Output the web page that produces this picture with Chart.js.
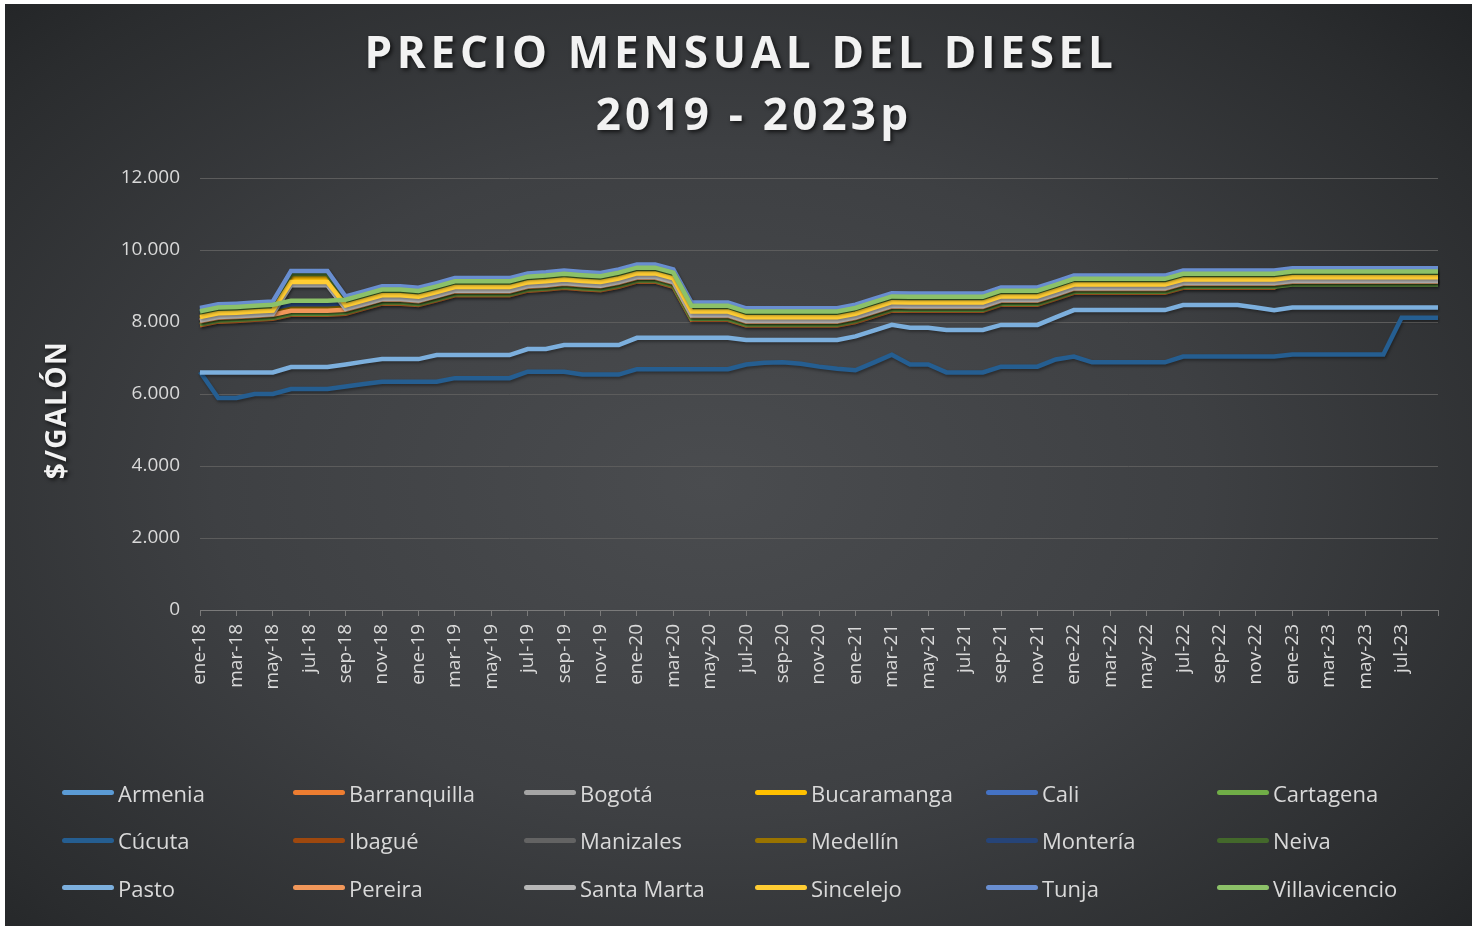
<!DOCTYPE html>
<html>
<head>
<meta charset="utf-8">
<script src="https://cdn.jsdelivr.net/npm/chart.js@4.4.0/dist/chart.umd.min.js"></script>
<style>
  html, body { margin: 0; padding: 0; background: #fff; }
  #frame {
    position: absolute; left: 5px; top: 4px; width: 1467px; height: 922px; overflow: hidden;
    background: radial-gradient(ellipse 75% 80% at 48% 52%, #4a4c4f 0%, #3e4043 45%, #2a2c2e 82%, #1e2022 100%);
  }
  #c { position: absolute; left: 0; top: 0; }
  #legend {
    position: absolute; left: 57px; top: 765px;
    display: grid; grid-template-columns: repeat(6, 231px); grid-auto-rows: 47.5px;
    font-family: "Open Sans"; font-size: 22px; color: #d9d9d9;
  }
  .item { display: flex; align-items: center; white-space: nowrap; }
  .sw { width: 52px; height: 5px; border-radius: 3px; margin-right: 4px; }
</style>
</head>
<body>
<div id="frame">
  <canvas id="c" width="1467" height="922"></canvas>
  <div id="legend"></div>
</div>
<script>
var months = [
  'ene-18','feb-18','mar-18','abr-18','may-18','jun-18','jul-18','ago-18','sep-18','oct-18','nov-18','dic-18',
  'ene-19','feb-19','mar-19','abr-19','may-19','jun-19','jul-19','ago-19','sep-19','oct-19','nov-19','dic-19',
  'ene-20','feb-20','mar-20','abr-20','may-20','jun-20','jul-20','ago-20','sep-20','oct-20','nov-20','dic-20',
  'ene-21','feb-21','mar-21','abr-21','may-21','jun-21','jul-21','ago-21','sep-21','oct-21','nov-21','dic-21',
  'ene-22','feb-22','mar-22','abr-22','may-22','jun-22','jul-22','ago-22','sep-22','oct-22','nov-22','dic-22',
  'ene-23','feb-23','mar-23','abr-23','may-23','jun-23','jul-23','ago-23','sep-23'
];

var cities = ['Armenia','Barranquilla','Bogotá','Bucaramanga','Cali','Cartagena',
  'Cúcuta','Ibagué','Manizales','Medellín','Montería','Neiva',
  'Pasto','Pereira','Santa Marta','Sincelejo','Tunja','Villavicencio'];

var colors = ['#5B9BD5','#ED7D31','#A5A5A5','#FFC000','#4472C4','#70AD47',
  '#255E91','#9E480E','#636363','#997300','#264478','#43682B',
  '#7CAFDD','#F1975A','#B7B7B7','#FFCD33','#698ED0','#8CC168'];

var armenia = [
  8270,8370,8390,8420,8450,8560,8560,8560,8590,8730,
  8870,8870,8830,8960,9100,9100,9100,9100,9230,9260,
  9310,9270,9240,9340,9480,9480,9340,8420,8420,8420,
  8260,8260,8260,8260,8260,8260,8360,8520,8680,8670,
  8670,8670,8670,8670,8840,8840,8840,9000,9170,9170,
  9170,9170,9170,9170,9310,9310,9310,9310,9310,9310,
  9370,9370,9370,9370,9370,9370,9370,9370,9370];
var barranquilla = [
  7910,8010,8030,8060,8090,8200,8200,8200,8230,8370,
  8510,8510,8470,8600,8740,8740,8740,8740,8870,8900,
  8950,8910,8880,8980,9120,9120,8980,8060,8060,8060,
  7900,7900,7900,7900,7900,7900,8000,8160,8320,8310,
  8310,8310,8310,8310,8480,8480,8480,8640,8810,8810,
  8810,8810,8810,8810,8950,8950,8950,8950,8950,8950,
  9360,9360,9360,9360,9360,9360,9360,9360,9360];
var bogota = [
  8050,8150,8170,8200,8230,8340,8340,8340,8370,8510,
  8650,8650,8610,8740,8880,8880,8880,8880,9010,9040,
  9090,9050,9020,9120,9260,9260,9120,8200,8200,8200,
  8040,8040,8040,8040,8040,8040,8140,8300,8460,8450,
  8450,8450,8450,8450,8620,8620,8620,8780,8950,8950,
  8950,8950,8950,8950,9090,9090,9090,9090,9090,9090,
  9150,9150,9150,9150,9150,9150,9150,9150,9150];
var bucaramanga = [
  8090,8190,8210,8240,8270,9230,9230,9230,8410,8550,
  8690,8690,8650,8780,8920,8920,8920,8920,9050,9080,
  9130,9090,9060,9160,9300,9300,9160,8240,8240,8240,
  8080,8080,8080,8080,8080,8080,8180,8340,8500,8490,
  8490,8490,8490,8490,8660,8660,8660,8820,8990,8990,
  8990,8990,8990,8990,9130,9130,9130,9130,9130,9130,
  9190,9190,9190,9190,9190,9190,9190,9190,9190];
var cali = [
  8340,8440,8460,8490,8520,9400,9400,9400,8660,8800,
  8940,8940,8900,9030,9170,9170,9170,9170,9300,9330,
  9380,9340,9310,9410,9550,9550,9410,8490,8490,8490,
  8330,8330,8330,8330,8330,8330,8430,8590,8750,8740,
  8740,8740,8740,8740,8910,8910,8910,9070,9240,9240,
  9240,9240,9240,9240,9380,9380,9380,9380,9380,9380,
  9440,9440,9440,9440,9440,9440,9440,9440,9440];
var cartagena = [
  7940,8040,8060,8090,8120,8230,8230,8230,8260,8400,
  8540,8540,8500,8630,8770,8770,8770,8770,8900,8930,
  8980,8940,8910,9010,9150,9150,9010,8090,8090,8090,
  7930,7930,7930,7930,7930,7930,8030,8190,8350,8340,
  8340,8340,8340,8340,8510,8510,8510,8670,8840,8840,
  8840,8840,8840,8840,8980,8980,8980,8980,8980,8980,
  9040,9040,9040,9040,9040,9040,9040,9040,9040];
var cucuta = [
  6620,5890,5890,6000,6000,6140,6140,6140,6210,6280,
  6340,6340,6340,6340,6440,6440,6440,6440,6620,6620,
  6620,6540,6540,6540,6690,6690,6690,6690,6690,6690,
  6820,6870,6880,6840,6760,6700,6660,6870,7090,6820,
  6820,6600,6600,6600,6760,6760,6760,6960,7040,6880,
  6880,6880,6880,6880,7040,7040,7040,7040,7040,7040,
  7100,7100,7100,7100,7100,7100,8120,8120,8120];
var ibague = [
  8030,8130,8150,8180,8210,8320,8320,8320,8350,8490,
  8630,8630,8590,8720,8860,8860,8860,8860,8990,9020,
  9070,9030,9000,9100,9240,9240,9100,8180,8180,8180,
  8020,8020,8020,8020,8020,8020,8120,8280,8440,8430,
  8430,8430,8430,8430,8600,8600,8600,8760,8930,8930,
  8930,8930,8930,8930,9070,9070,9070,9070,9070,9070,
  9130,9130,9130,9130,9130,9130,9130,9130,9130];
var manizales = [
  8070,8170,8190,8220,8250,8360,8360,8360,8390,8530,
  8670,8670,8630,8760,8900,8900,8900,8900,9030,9060,
  9110,9070,9040,9140,9280,9280,9140,8220,8220,8220,
  8060,8060,8060,8060,8060,8060,8160,8320,8480,8470,
  8470,8470,8470,8470,8640,8640,8640,8800,8970,8970,
  8970,8970,8970,8970,9110,9110,9110,9110,9110,9110,
  9170,9170,9170,9170,9170,9170,9170,9170,9170];
var medellin = [
  8110,8210,8230,8260,8290,8400,8400,8400,8430,8570,
  8710,8710,8670,8800,8940,8940,8940,8940,9070,9100,
  9150,9110,9080,9180,9320,9320,9180,8260,8260,8260,
  8100,8100,8100,8100,8100,8100,8200,8360,8520,8510,
  8510,8510,8510,8510,8680,8680,8680,8840,9010,9010,
  9010,9010,9010,9010,9150,9150,9150,9150,9150,9150,
  9210,9210,9210,9210,9210,9210,9210,9210,9210];
var monteria = [
  8200,8300,8320,8350,8380,8490,8490,8490,8520,8660,
  8800,8800,8760,8890,9030,9030,9030,9030,9160,9190,
  9240,9200,9170,9270,9410,9410,9270,8350,8350,8350,
  8190,8190,8190,8190,8190,8190,8290,8450,8610,8600,
  8600,8600,8600,8600,8770,8770,8770,8930,9100,9100,
  9100,9100,9100,9100,9240,9240,9240,9240,9240,9240,
  9300,9300,9300,9300,9300,9300,9300,9300,9300];
var neiva = [
  8240,8340,8360,8390,8420,9330,9330,9330,8560,8700,
  8840,8840,8800,8930,9070,9070,9070,9070,9200,9230,
  9280,9240,9210,9310,9450,9450,9310,8390,8390,8390,
  8230,8230,8230,8230,8230,8230,8330,8490,8650,8640,
  8640,8640,8640,8640,8810,8810,8810,8970,9140,9140,
  9140,9140,9140,9140,9280,9280,9280,9280,9280,9280,
  9340,9340,9340,9340,9340,9340,9340,9340,9340];
var pasto = [
  6600,6600,6600,6600,6600,6750,6750,6750,6820,6900,
  6970,6970,6970,7080,7080,7080,7080,7080,7250,7250,
  7360,7360,7360,7360,7560,7560,7560,7560,7560,7560,
  7500,7500,7500,7500,7500,7500,7600,7760,7920,7840,
  7840,7780,7780,7780,7920,7920,7920,8130,8330,8330,
  8330,8330,8330,8330,8470,8470,8470,8470,8400,8330,
  8400,8400,8400,8400,8400,8400,8400,8400,8400];
var pereira = [
  8020,8120,8140,8170,8200,8310,8310,8310,8340,8480,
  8620,8620,8580,8710,8850,8850,8850,8850,8980,9010,
  9060,9020,8990,9090,9230,9230,9090,8170,8170,8170,
  8010,8010,8010,8010,8010,8010,8110,8270,8430,8420,
  8420,8420,8420,8420,8590,8590,8590,8750,8920,8920,
  8920,8920,8920,8920,9060,9060,9060,9060,9060,9060,
  9120,9120,9120,9120,9120,9120,9120,9120,9120];
var santaMarta = [
  8040,8140,8160,8190,8220,9020,9020,9020,8360,8500,
  8640,8640,8600,8730,8870,8870,8870,8870,9000,9030,
  9080,9040,9010,9110,9250,9250,9110,8190,8190,8190,
  8030,8030,8030,8030,8030,8030,8130,8290,8450,8440,
  8440,8440,8440,8440,8610,8610,8610,8770,8940,8940,
  8940,8940,8940,8940,9080,9080,9080,9080,9080,9080,
  9140,9140,9140,9140,9140,9140,9140,9140,9140];
var sincelejo = [
  8140,8240,8260,8290,8320,9110,9110,9110,8460,8600,
  8740,8740,8700,8830,8970,8970,8970,8970,9100,9130,
  9180,9140,9110,9210,9350,9350,9210,8290,8290,8290,
  8130,8130,8130,8130,8130,8130,8230,8390,8550,8540,
  8540,8540,8540,8540,8710,8710,8710,8870,9040,9040,
  9040,9040,9040,9040,9180,9180,9180,9180,9180,9180,
  9240,9240,9240,9240,9240,9240,9240,9240,9240];
var tunja = [
  8390,8490,8510,8540,8570,9420,9420,9420,8710,8850,
  8990,8990,8950,9080,9220,9220,9220,9220,9350,9380,
  9430,9390,9360,9460,9600,9600,9460,8540,8540,8540,
  8380,8380,8380,8380,8380,8380,8480,8640,8800,8790,
  8790,8790,8790,8790,8960,8960,8960,9120,9290,9290,
  9290,9290,9290,9290,9430,9430,9430,9430,9430,9430,
  9490,9490,9490,9490,9490,9490,9490,9490,9490];
var villavicencio = [
  8300,8400,8420,8450,8480,8590,8590,8590,8620,8760,
  8900,8900,8860,8990,9130,9130,9130,9130,9260,9290,
  9340,9300,9270,9370,9510,9510,9370,8450,8450,8450,
  8290,8290,8290,8290,8290,8290,8390,8550,8710,8700,
  8700,8700,8700,8700,8870,8870,8870,9030,9200,9200,
  9200,9200,9200,9200,9340,9340,9340,9340,9340,9340,
  9400,9400,9400,9400,9400,9400,9400,9400,9400];

var series = [armenia, barranquilla, bogota, bucaramanga, cali, cartagena,
  cucuta, ibague, manizales, medellin, monteria, neiva,
  pasto, pereira, santaMarta, sincelejo, tunja, villavicencio];

function miles(v) {
  return String(v).replace(/\B(?=(\d{3})+(?!\d))/g, '.');
}

// sombra suave bajo cada linea, como en Excel
var sombra = {
  id: 'sombra',
  beforeDatasetDraw: function (chart) {
    var c = chart.ctx;
    c.save();
    c.shadowColor = 'rgba(0,0,0,0.35)';
    c.shadowBlur = 3;
    c.shadowOffsetX = 1;
    c.shadowOffsetY = 2;
  },
  afterDatasetDraw: function (chart) {
    chart.ctx.restore();
  }
};

// titulo principal y titulo del eje Y
var titulos = {
  id: 'titulos',
  afterDraw: function (chart) {
    var c = chart.ctx;
    c.save();
    c.fillStyle = '#f2f2f2';
    c.shadowColor = 'rgba(0,0,0,0.7)';
    c.shadowBlur = 4;
    c.shadowOffsetX = 2;
    c.shadowOffsetY = 2;
    c.textAlign = 'center';
    c.textBaseline = 'alphabetic';
    c.font = 'bold 44px "Open Sans"';
    c.letterSpacing = '4.7px';
    c.fillText('PRECIO MENSUAL DEL DIESEL', 736, 64);
    c.letterSpacing = '4.2px';
    c.fillText('2019 - 2023p', 749, 126);

    c.translate(53, 406);
    c.rotate(-Math.PI / 2);
    c.textBaseline = 'middle';
    c.font = 'bold 28px "Open Sans"';
    c.letterSpacing = '1.5px';
    c.fillText('$/GALÓN', 0, 0);
    c.restore();
  }
};

// como en Excel, la serie siguiente se dibuja encima de la anterior
var datasets = [];
for (var i = 0; i < cities.length; i++) {
  datasets.push({
    label: cities[i],
    data: series[i],
    borderColor: colors[i],
    backgroundColor: colors[i],
    borderWidth: 4.5,
    pointRadius: 0,
    pointHoverRadius: 0,
    tension: 0,
    fill: false,
    order: cities.length - i
  });
}

var chart = new Chart(document.getElementById('c'), {
  type: 'line',
  data: { labels: months, datasets: datasets },
  plugins: [sombra, titulos],
  options: {
    responsive: false,
    animation: false,
    layout: { padding: { top: 174, right: 34, bottom: 216, left: 0 } },
    plugins: {
      legend: { display: false },
      title: { display: false },
      tooltip: { enabled: false }
    },
    scales: {
      x: {
        offset: false,
        grid: {
          drawOnChartArea: false,
          tickLength: 6,
          tickColor: function (ctx) { return ctx.index % 2 === 0 ? '#7a7a7a' : 'rgba(0,0,0,0)'; }
        },
        border: { color: '#7a7a7a', width: 1 },
        ticks: {
          autoSkip: false,
          minRotation: 90,
          maxRotation: 90,
          padding: 8,
          color: '#d9d9d9',
          font: { family: 'Open Sans', size: 19 },
          callback: function (v, i) { return (i % 2 === 0 && i < 68) ? months[i] : ''; }
        },
        afterFit: function (s) { s.height = 100; }
      },
      y: {
        min: 0,
        max: 12000,
        grid: { color: '#5c5c5c', drawTicks: false },
        border: { display: false },
        ticks: {
          stepSize: 2000,
          padding: 20,
          color: '#d9d9d9',
          font: { family: 'Open Sans', size: 19 },
          callback: function (v) { return miles(v); }
        },
        afterFit: function (s) { s.width = 195; }
      }
    }
  }
});

// leyenda en 3 filas x 6 columnas, en el orden de las series
var legend = document.getElementById('legend');
chart.data.datasets.forEach(function (d) {
  var item = document.createElement('div');
  item.className = 'item';
  var sw = document.createElement('span');
  sw.className = 'sw';
  sw.style.background = d.borderColor;
  var txt = document.createElement('span');
  txt.textContent = d.label;
  item.appendChild(sw);
  item.appendChild(txt);
  legend.appendChild(item);
});
</script>
</body>
</html>
